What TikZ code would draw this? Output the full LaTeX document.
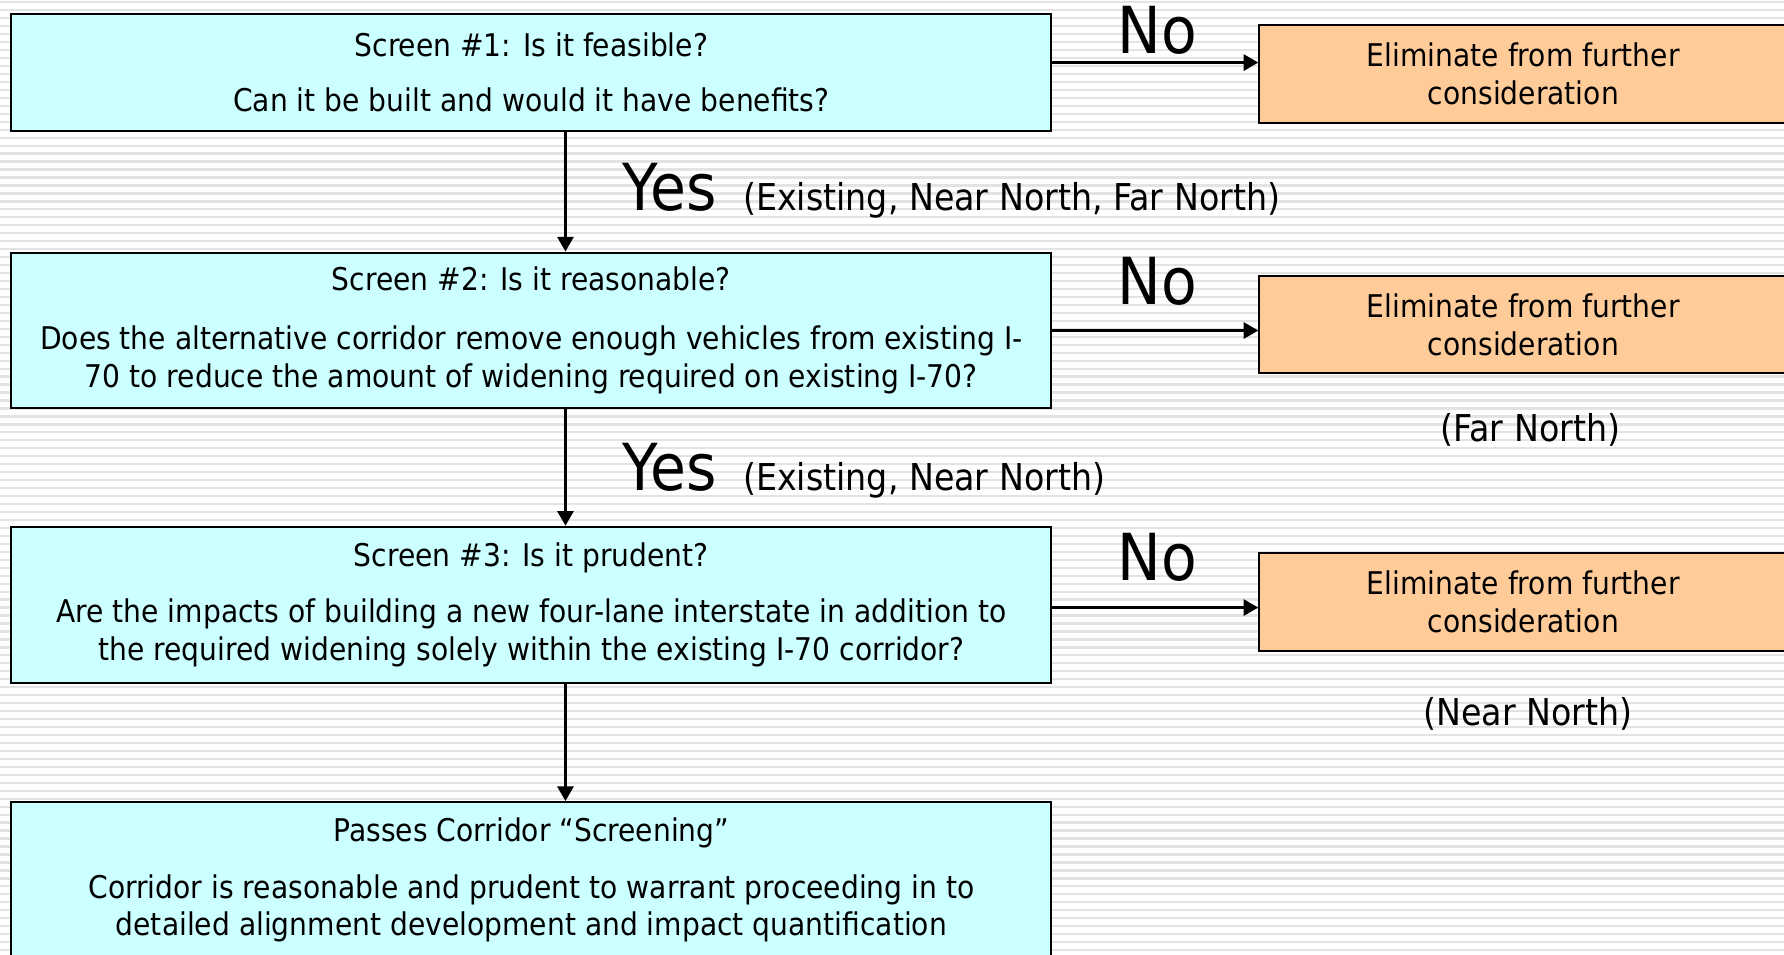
\documentclass[tikz,border=0pt]{standalone}
\usepackage{fontspec}
\setmainfont{DejaVu Sans}[FakeStretch=0.9]
\usetikzlibrary{arrows.meta,calc}
\definecolor{screenblue}{HTML}{CCFFFF}
\definecolor{dropbox}{HTML}{FFCC99}
\def\txt{\fontsize{27.5}{33}\selectfont}
\def\mid{\fontsize{32.5}{38}\selectfont}
\def\big{\fontsize{57}{62}\selectfont}

\begin{document}
\begin{tikzpicture}[x=1pt, y=-1pt,
		screen/.style={draw=black, line width=1.75pt, fill=screenblue, minimum width=914pt, align=center, font=\txt, inner sep=0pt},
		drop/.style={draw=black, line width=1.75pt, fill=dropbox, anchor=west, inner sep=0pt, font=\txt},
		arr/.style={line width=2.9pt, -{Triangle[length=13pt, width=14pt]}},
		word/.style={anchor=base west, inner sep=0pt, font=\big},
		note/.style={anchor=base west, inner sep=0pt, font=\mid}]
			%%%%% START %%%%%
			
			\useasboundingbox (0, 0) rectangle (1568, 838.5);
			\clip (0, 0) rectangle (1568, 838.5);
			\fill[white] (0, 0) rectangle (1568, 838.5);
			\foreach \y in {2,9,...,840}
				\draw[line width=2pt, color=black!11] (0, \y) -- (1568, \y);
			
			\node[screen, minimum height=103pt] (s1) at (467, 63.5) {Screen \#1: Is it feasible?\\[16pt]Can it be built and would it have benefits?};
			\node[screen, minimum height=137pt] (s2) at (467, 290.5) {Screen \#2: Is it reasonable?\\[19pt]Does the alternative corridor remove enough vehicles from existing I-\\70 to reduce the amount of widening required on existing I-70?};
			\node[screen, minimum height=137pt] (s3) at (467, 531.5) {Screen \#3: Is it prudent?\\[16pt]Are the impacts of building a new four-lane interstate in addition to\\the required widening solely within the existing I-70 corridor?};
			\node[screen, minimum height=137pt] (s4) at (467, 773.5) {Passes Corridor ``Screening''\\[17pt]Corridor is reasonable and prudent to warrant proceeding in to\\detailed alignment development and impact quantification};
			
			\node[drop, minimum height=86pt] (e1) at (1106, 65) {\parbox{464pt}{\centering Eliminate from further\\consideration}\hspace{250pt}};
			\node[drop, minimum height=85pt] (e2) at (1106, 285.5) {\parbox{464pt}{\centering Eliminate from further\\consideration}\hspace{250pt}};
			\node[drop, minimum height=86pt] (e3) at (1106, 529) {\parbox{464pt}{\centering Eliminate from further\\consideration}\hspace{250pt}};
			
			\draw[arr] ([xshift=30pt]s1.south) -- ([xshift=30pt]s2.north);
			\draw[arr] ([xshift=30pt]s2.south) -- ([xshift=30pt]s3.north);
			\draw[arr] ([xshift=30pt]s3.south) -- ([xshift=30pt]s4.north);
			
			\draw[arr] ([yshift=8.5pt]s1.east) -- ([yshift=8.5pt]s1.east -| e1.west);
			\draw[arr] (s2.east) -- (s2.east -| e2.west);
			\draw[arr] ([yshift=-2.5pt]s3.east) -- ([yshift=-2.5pt]s3.east -| e3.west);
			
			\node[word] (yes1) at (547, 185) {Yes};
			\node[note] (keep1) at (653, 185) {(Existing, Near North, Far North)};
			\node[word] (yes2) at (547, 431) {Yes};
			\node[note] (keep2) at (653, 431) {(Existing, Near North)};
			
			\node[word] (no1) at (982, 47) {No};
			\node[word] (no2) at (982, 268) {No};
			\node[word] (no3) at (982, 510) {No};
			
			\node[note, anchor=base] (out2) at (1345, 388) {(Far North)};
			\node[note, anchor=base] (out3) at (1343, 638) {(Near North)};
			
			%%%%% END %%%%%
\end{tikzpicture}
\end{document}
